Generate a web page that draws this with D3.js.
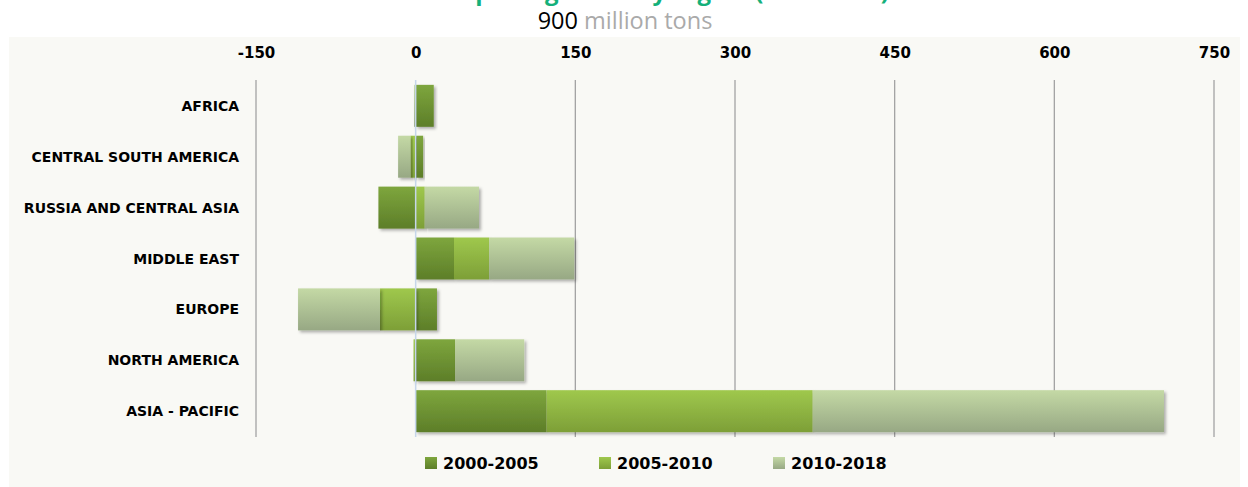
<!DOCTYPE html>
<meta charset="utf-8">
<title>Oil demand growth by region</title>
<style>
body { margin: 0; background: #fff; }
.tick-label { font-family: "DejaVu Sans", sans-serif; font-weight: bold; font-size: 15px; fill: #000; }
.cat-label { font-family: "DejaVu Sans", sans-serif; font-weight: bold; font-size: 14px; fill: #000; }
.legend-label { font-family: "DejaVu Sans", sans-serif; font-weight: bold; font-size: 16px; fill: #000; }
</style>
<script src="https://d3js.org/d3.v7.min.js"></script>
<body>
<script>
var width = 1248;
var height = 487;

// data (million tons, change per period)
var regions = ["AFRICA", "CENTRAL SOUTH AMERICA", "RUSSIA AND CENTRAL ASIA",
               "MIDDLE EAST", "EUROPE", "NORTH AMERICA", "ASIA - PACIFIC"];
var periods = ["2000-2005", "2005-2010", "2010-2018"];
var growth0005 = [17, 7, -35, 36, 20, 37, 123];
var growth0510 = [0, -5, 8.5, 33, -33.5, -2, 250];
var growth1018 = [-1.5, -11.5, 51, 80, -77, 65, 330];
var tickValues = [-150, 0, 150, 300, 450, 600, 750];

var rows = regions.map(function(r, i) {
  var o = { region: r };
  o[periods[0]] = growth0005[i];
  o[periods[1]] = growth0510[i];
  o[periods[2]] = growth1018[i];
  return o;
});

var svg = d3.select("body").append("svg")
    .attr("width", width)
    .attr("height", height);

// gradients for the three periods
var gradColors = [["#7ea63d", "#5d7e29"], ["#9fc84d", "#7d9f37"], ["#c4d9a5", "#97a884"]];
var defs = svg.append("defs");
gradColors.forEach(function(c, i) {
  var g = defs.append("linearGradient")
      .attr("id", "grad" + i)
      .attr("x1", 0).attr("y1", 0).attr("x2", 0).attr("y2", 1);
  g.append("stop").attr("offset", "0%").attr("stop-color", c[0]);
  g.append("stop").attr("offset", "100%").attr("stop-color", c[1]);
});
var shadow = defs.append("filter").attr("id", "shadow")
    .attr("x", "-10%").attr("y", "-20%").attr("width", "130%").attr("height", "150%");
shadow.append("feDropShadow")
    .attr("dx", 2).attr("dy", 2).attr("stdDeviation", 1.5)
    .attr("flood-color", "#000").attr("flood-opacity", 0.3);

// background panel
svg.append("rect")
    .attr("x", 9).attr("y", 37)
    .attr("width", 1231).attr("height", 450)
    .attr("fill", "#f9f9f5");

// title, cut off at the top edge as in the original
svg.append("text")
    .attr("x", 615).attr("y", 0)
    .attr("text-anchor", "middle")
    .style("font-family", "'Open Sans', sans-serif")
    .style("font-weight", "bold")
    .style("font-size", "24px")
    .attr("fill", "#14b07a")
    .text("Oil consumption growth by region (2000-2018)");

var sub = svg.append("text")
    .attr("x", 625).attr("y", 29)
    .attr("text-anchor", "middle")
    .style("font-family", "'Open Sans', sans-serif")
    .style("font-size", "23.5px");
sub.append("tspan").attr("fill", "#000").text("900 ");
sub.append("tspan").attr("fill", "#aaaaaa").text("million tons");

var x = d3.scaleLinear()
    .domain([-150, 750])
    .range([256, 1214]);

var y = d3.scaleBand()
    .domain(regions)
    .range([80, 437])
    .paddingInner(0.175)
    .paddingOuter(0.095);

// gridlines
svg.append("g").selectAll("line")
    .data(tickValues.filter(function(d) { return d !== 0; }))
  .enter().append("line")
    .attr("x1", function(d) { return x(d); })
    .attr("x2", function(d) { return x(d); })
    .attr("y1", 80).attr("y2", 437)
    .attr("stroke", "#a3a3a3")
    .attr("stroke-width", 1.3);

// top axis labels
var xAxis = d3.axisTop(x)
    .tickValues(tickValues)
    .tickFormat(function(d) { return String(d); })
    .tickSize(0)
    .tickPadding(0);
var gx = svg.append("g")
    .attr("transform", "translate(0,58)")
    .call(xAxis);
gx.select(".domain").remove();
gx.selectAll("text")
    .attr("class", "tick-label")
    .attr("dy", 0)
    .attr("fill", null);

// category labels
svg.append("g").selectAll("text")
    .data(regions)
  .enter().append("text")
    .attr("class", "cat-label")
    .attr("x", 239)
    .attr("y", function(d) { return y(d) + y.bandwidth() / 2; })
    .attr("dy", "0.36em")
    .attr("text-anchor", "end")
    .text(function(d) { return d; });

// stacked bars
var series = d3.stack()
    .keys(periods)
    .offset(d3.stackOffsetDiverging)(rows);

svg.append("g")
  .selectAll("g")
    .data(series)
  .enter().append("g")
    .attr("fill", function(d, i) { return "url(#grad" + i + ")"; })
  .selectAll("rect")
    .data(function(d) { return d; })
  .enter().append("rect")
    .attr("filter", "url(#shadow)")
    .attr("x", function(d) { return x(Math.min(d[0], d[1])); })
    .attr("y", function(d) { return y(d.data.region); })
    .attr("width", function(d) { return Math.abs(x(d[1]) - x(d[0])); })
    .attr("height", y.bandwidth());

// zero line on top of bars
svg.append("line")
    .attr("x1", x(0)).attr("x2", x(0))
    .attr("y1", 80).attr("y2", 437)
    .attr("stroke", "#c6d6ea")
    .attr("stroke-width", 1.5);

// legend
var legend = svg.append("g").selectAll("g")
    .data(periods)
  .enter().append("g")
    .attr("transform", function(d, i) { return "translate(" + (425 + i * 174) + ",457)"; });
legend.append("rect")
    .attr("width", 12).attr("height", 12)
    .attr("fill", function(d, i) { return "url(#grad" + i + ")"; });
legend.append("text")
    .attr("class", "legend-label")
    .attr("x", 18).attr("y", 6)
    .attr("dy", "0.36em")
    .text(function(d) { return d; });
</script>
